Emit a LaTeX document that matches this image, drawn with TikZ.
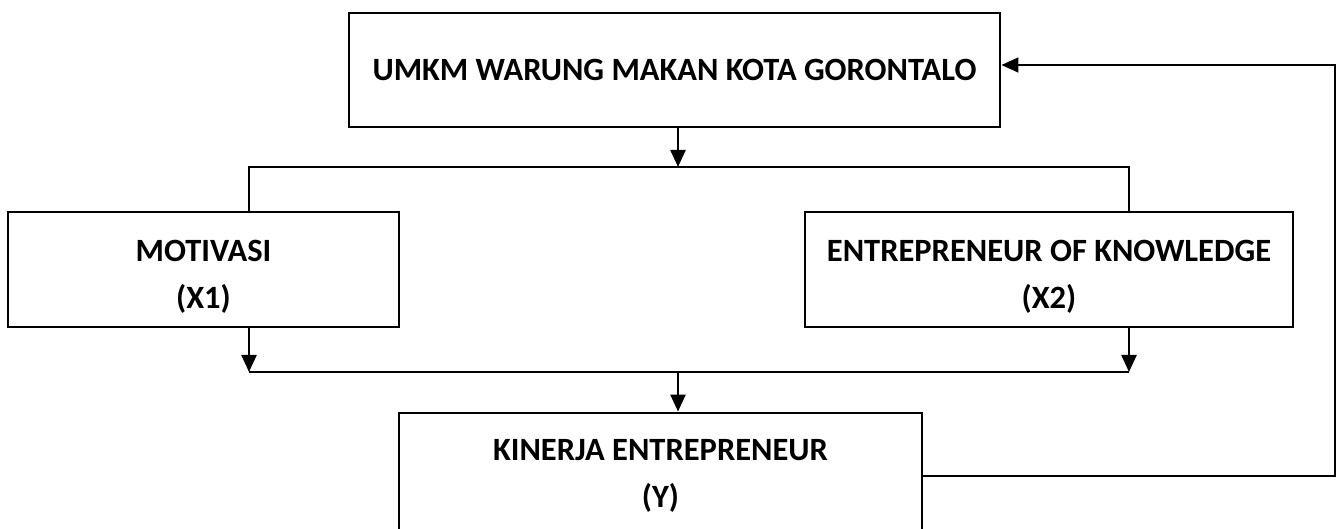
\documentclass[tikz,border=0pt]{standalone}
\usepackage{fontspec}
\setmainfont{Carlito}
\usetikzlibrary{arrows.meta}
\newcommand{\twolines}[3]{\raisebox{#3}[\height][\depth]{\begin{tabular}{@{}c@{}}#1\\#2\end{tabular}}}
\begin{document}
\begin{tikzpicture}[x=1pt,y=-1pt,
  box/.style={draw,line width=2.9pt,inner sep=0pt,align=center,
    font=\fontsize{32.5}{47}\selectfont\bfseries},
  link/.style={line width=1.6pt},
  tip/.style={-{Triangle[length=17pt,width=15pt]}},
  arr/.style={line width=2.4pt,tip}]
\useasboundingbox (0,0) rectangle (1339,529);
\clip (0,0) rectangle (1339,529);
\node[box,minimum width=651pt,minimum height=114pt] (top) at (674.5,70) {UMKM WARUNG MAKAN KOTA GORONTALO};
\node[box,minimum width=391pt,minimum height=115pt] (mot) at (203.5,269.5) {\twolines{MOTIVASI}{(X1)}{-6pt}};
\node[box,minimum width=488pt,minimum height=115pt] (x2) at (1049,269.5) {\twolines{ENTREPRENEUR OF KNOWLEDGE}{(X2)}{-6pt}};
\node[box,minimum width=523pt,minimum height=130pt] (y) at (660.5,478) {\twolines{KINERJA ENTREPRENEUR}{(Y)}{3pt}};
\coordinate (jt) at (678,167);
\coordinate (jl) at (249,167);
\coordinate (jr) at (1129,167);
\coordinate (bl) at (249,372);
\coordinate (br) at (1129,372);
\coordinate (bm) at (678,372);
\coordinate (fb) at (1335,476);
\coordinate (fbt) at (1335,65);
\draw[arr] (jt |- top.south) -- (jt);
\draw[link] (jl |- mot.north) -- (jl) -- (jr) -- (jr |- x2.north);
\draw[arr] (bl |- mot.south) -- (bl);
\draw[arr] (br |- x2.south) -- (br);
\draw[link] (bl) -- (br);
\draw[arr] (bm) -- (bm |- y.north);
\draw[link,tip] (y.east |- fb) -- (fb) -- (fbt) -- (top.east |- fbt);
\end{tikzpicture}
\end{document}
